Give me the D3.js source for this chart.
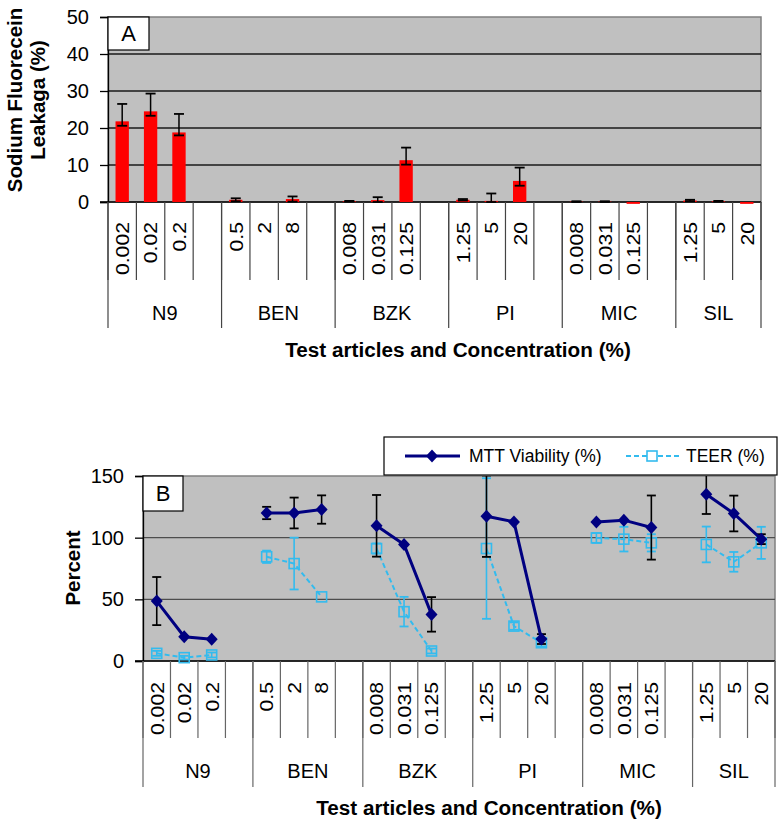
<!DOCTYPE html>
<html>
<head>
<meta charset="utf-8">
<script src="https://cdn.jsdelivr.net/npm/d3@7"></script>
<style>
  html, body { margin: 0; padding: 0; background: #fff; }
  svg { display: block; font-family: "Liberation Sans", Arial, sans-serif; }
</style>
</head>
<body>
<svg id="chart" width="784" height="826"></svg>
<script>
// ---------------- DATA ----------------
const groups = ["N9", "BEN", "BZK", "PI", "MIC", "SIL"];
const concentrations = [
  ["0.002", "0.02", "0.2"],
  ["0.5", "2", "8"],
  ["0.008", "0.031", "0.125"],
  ["1.25", "5", "20"],
  ["0.008", "0.031", "0.125"],
  ["1.25", "5", "20"]
];
// Panel A: sodium fluorescein leakage (%)
const leakage     = [21.8, 24.5, 18.8,  0.6, 0.0, 0.8,  0.2, 0.5, 11.3,  0.6, 0.3, 5.7,  0.1, 0.1, -0.5,  0.4, 0.2, -0.5];
const leakErrUp   = [4.7, 4.8, 5.0,     0.4, 0.0, 0.7,  0.1, 0.8, 3.4,   0.2, 2.0, 3.6,  0.1, 0.1, 0.0,   0.2, 0.1, 0.0];
const leakErrDown = [1.2, 1.2, 0.8,     0.4, 0.0, 0.7,  0.1, 0.5, 1.2,   0.2, 0.3, 1.3,  0.1, 0.1, 0.0,   0.2, 0.1, 0.0];
// Panel B: MTT viability (%) and TEER (%)
const mtt     = [48.6, 19.7, 17.6,  120.0, 120.0, 122.8,  109.6, 94.5, 37.8,  117.4, 112.8, 17.8,  112.8, 114.2, 108.2,  135.2, 119.6, 98.8];
const mttErr  = [19.5, 0, 0,        5, 12.5, 11.5,        25, 0, 14,          33, 0, 4,              0, 0, 26,               16, 14.5, 4];
const teer    = [6.2, 2.7, 4.9,     84.5, 79.0, 52.0,     91.2, 40.0, 8.1,    91.2, 28.3, 14.8,     99.8, 98.8, 95.8,       94.5, 80.4, 95.8];
const teerErr = [2, 1.5, 2,         5, 21, 0,             4, 12, 2,           57, 3, 3,             4, 10, 7,               14.5, 8, 13];
const ticksA = [0, 10, 20, 30, 40, 50];
const ticksB = [0, 50, 100, 150];
const seriesNames = ["MTT Viability (%)", "TEER (%)"];

// ---------------- SLOTS ----------------
const slots = [];
const points = [];
groups.forEach((g, gi) => {
  concentrations[gi].forEach((c, ci) => {
    const key = g + "|" + ci;
    slots.push(key);
    points.push({ key, group: g, gi, conc: c, idx: points.length });
  });
  if (gi < groups.length - 1) slots.push("gap" + gi);
});

const svg = d3.select("#chart");
const FONT = "'Liberation Sans', Arial, sans-serif";
const PLOT_BG = "#C0C0C0";

function drawCategoryAxis(g, x, yAxis, opts) {
  const bw = x.bandwidth();
  const [r0, r1] = x.range();
  const bounds = d3.range(slots.length + 1).map(i => r0 + i * bw);
  g.selectAll(".sep").data(bounds).join("line")
    .attr("x1", d => d).attr("x2", d => d)
    .attr("y1", yAxis).attr("y2", yAxis + opts.shortLen)
    .attr("stroke", opts.sepColor).attr("stroke-width", 1.2);
  const gb = [];
  let acc = 0;
  groups.forEach((gname, gi) => {
    gb.push(r0 + acc * bw);
    acc += concentrations[gi].length + (gi < groups.length - 1 ? 1 : 0);
  });
  gb.push(r1);
  g.selectAll(".gsep").data(gb).join("line")
    .attr("x1", d => d).attr("x2", d => d)
    .attr("y1", yAxis).attr("y2", yAxis + opts.longLen)
    .attr("stroke", opts.sepColor).attr("stroke-width", 1.2);
  g.selectAll(".clab").data(points).join("text")
    .attr("transform", d => `translate(${x(d.key) + bw / 2},${yAxis + opts.labelGap}) rotate(-90) scale(1.06,0.95)`)
    .attr("text-anchor", "end").attr("dy", "0.36em")
    .attr("font-size", 20).attr("font-family", FONT).attr("fill", "#000")
    .text(d => d.conc);
  g.selectAll(".glab").data(groups).join("text")
    .attr("x", (d, i) => (gb[i] + gb[i + 1]) / 2)
    .attr("y", yAxis + opts.groupY)
    .attr("text-anchor", "middle")
    .attr("font-size", 20).attr("font-family", FONT)
    .text(d => d);
}

function drawPlotFrame(g, x, y, left, right, top, bottom, ticks, gridColor) {
  g.append("rect").attr("x", left).attr("y", top)
    .attr("width", right - left).attr("height", bottom - top)
    .attr("fill", PLOT_BG).attr("stroke", "#808080").attr("stroke-width", 1.5);
  g.selectAll(".grid").data(ticks.filter(t => t !== 0 && y(t) > top + 1)).join("line")
    .attr("x1", left).attr("x2", right)
    .attr("y1", d => y(d)).attr("y2", d => y(d))
    .attr("stroke", gridColor).attr("stroke-width", 1.3);
  const ya = g.append("g").attr("transform", `translate(${left},0)`)
    .call(d3.axisLeft(y).tickValues(ticks).tickSize(8).tickPadding(11).tickFormat(d3.format("d")));
  ya.select(".domain").attr("stroke", "#000").attr("stroke-width", 1.3);
  ya.selectAll(".tick line").attr("stroke", "#000").attr("stroke-width", 1.3);
  ya.selectAll("text").attr("font-size", 20).attr("font-family", FONT).attr("fill", "#000");
  g.append("line").attr("x1", left - 8).attr("x2", right)
    .attr("y1", y(0)).attr("y2", y(0))
    .attr("stroke", "#000").attr("stroke-width", 1.5);
}

function letterBox(g, x0, y0, w, h, letter) {
  g.append("rect").attr("x", x0).attr("y", y0).attr("width", w).attr("height", h)
    .attr("fill", "#fff").attr("stroke", "#000").attr("stroke-width", 1.2);
  g.append("text").attr("x", x0 + w / 2).attr("y", y0 + h / 2).attr("dy", "0.36em")
    .attr("text-anchor", "middle").attr("font-size", 22).attr("font-family", FONT)
    .text(letter);
}

// ---------------- PANEL A ----------------
{
  const L = 108, R = 761, T = 17, B = 202;
  const x = d3.scaleBand().domain(slots).range([L, R]).padding(0);
  const y = d3.scaleLinear().domain([0, 50]).range([B, T]);
  const g = svg.append("g");
  drawPlotFrame(g, x, y, L, R, T, B, ticksA, "#1a1a1a");
  const bw = x.bandwidth();
  const barW = bw * 0.47;
  g.selectAll(".bar").data(points).join("rect")
    .attr("x", d => x(d.key) + (bw - barW) / 2)
    .attr("width", barW)
    .attr("y", d => y(Math.max(0, leakage[d.idx])))
    .attr("height", d => Math.abs(y(leakage[d.idx]) - y(0)))
    .attr("fill", "#FF0000");
  const eb = points.filter(d => leakErrUp[d.idx] + leakErrDown[d.idx] > 0);
  const cx = d => x(d.key) + bw / 2;
  g.selectAll(".ev").data(eb).join("line")
    .attr("x1", cx).attr("x2", cx)
    .attr("y1", d => y(leakage[d.idx] + leakErrUp[d.idx]))
    .attr("y2", d => y(leakage[d.idx] - leakErrDown[d.idx]))
    .attr("stroke", "#000").attr("stroke-width", 1.5);
  ["up", "down"].forEach(k => {
    g.selectAll(".ec" + k).data(eb).join("line")
      .attr("x1", d => cx(d) - 5).attr("x2", d => cx(d) + 5)
      .attr("y1", d => y(leakage[d.idx] + (k === "up" ? leakErrUp[d.idx] : -leakErrDown[d.idx])))
      .attr("y2", d => y(leakage[d.idx] + (k === "up" ? leakErrUp[d.idx] : -leakErrDown[d.idx])))
      .attr("stroke", "#000").attr("stroke-width", 1.8);
  });
  drawCategoryAxis(g, x, B, { shortLen: 78, longLen: 126, labelGap: 20, groupY: 118, sepColor: "#444" });
  letterBox(g, L, T, 41, 33, "A");
  const yt = g.append("text").attr("transform", "translate(15,100) rotate(-90)")
    .attr("text-anchor", "middle").attr("font-size", 20.5).attr("font-weight", "bold")
    .attr("font-family", FONT);
  yt.append("tspan").attr("x", 0).attr("dy", "0.35em").text("Sodium Fluorecein");
  yt.append("tspan").attr("x", 0).attr("dy", "1.12em").text("Leakaga (%)");
  g.append("text").attr("x", 458).attr("y", 357).attr("text-anchor", "middle")
    .attr("font-size", 20.7).attr("font-weight", "bold").attr("font-family", FONT)
    .text("Test articles and Concentration (%)");
}

// ---------------- PANEL B ----------------
{
  const L = 143, R = 775, T = 476, B = 661;
  const x = d3.scaleBand().domain(slots).range([L, R]).padding(0);
  const y = d3.scaleLinear().domain([0, 150]).range([B, T]);
  const g = svg.append("g");
  drawPlotFrame(g, x, y, L, R, T, B, ticksB, "#4d4d4d");
  const bw = x.bandwidth();
  const cx = d => x(d.key) + bw / 2;

  svg.append("clipPath").attr("id", "clipB").append("rect")
    .attr("x", L).attr("y", T).attr("width", R - L).attr("height", B - T + 20);
  const pg = g.append("g").attr("clip-path", "url(#clipB)");

  function errorBars(vals, errs, color, cls) {
    const eb = points.filter(d => errs[d.idx] > 0);
    pg.selectAll(".v" + cls).data(eb).join("line")
      .attr("x1", cx).attr("x2", cx)
      .attr("y1", d => y(vals[d.idx] + errs[d.idx]))
      .attr("y2", d => y(vals[d.idx] - errs[d.idx]))
      .attr("stroke", color).attr("stroke-width", 1.6);
    [1, -1].forEach(s => {
      pg.selectAll(".c" + cls + s).data(eb).join("line")
        .attr("x1", d => cx(d) - 4.5).attr("x2", d => cx(d) + 4.5)
        .attr("y1", d => y(vals[d.idx] + s * errs[d.idx]))
        .attr("y2", d => y(vals[d.idx] + s * errs[d.idx]))
        .attr("stroke", color).attr("stroke-width", 1.8);
    });
  }
  const line = vals => d3.line().x(cx).y(d => y(vals[d.idx]));
  const byGroup = groups.map(gn => points.filter(p => p.group === gn));

  const teerColor = "#33BBEE";
  errorBars(teer, teerErr, teerColor, "t");
  pg.selectAll(".tline").data(byGroup).join("path")
    .attr("d", line(teer)).attr("fill", "none")
    .attr("stroke", teerColor).attr("stroke-width", 2).attr("stroke-dasharray", "5,3");
  pg.selectAll(".tsq").data(points).join("rect")
    .attr("x", d => cx(d) - 5).attr("y", d => y(teer[d.idx]) - 5)
    .attr("width", 10).attr("height", 10)
    .attr("fill", "none").attr("stroke", teerColor).attr("stroke-width", 1.6);

  const mttColor = "#000080";
  errorBars(mtt, mttErr, "#000", "m");
  pg.selectAll(".mline").data(byGroup).join("path")
    .attr("d", line(mtt)).attr("fill", "none")
    .attr("stroke", mttColor).attr("stroke-width", 3);
  const diamond = "M0,-6.5L6,0L0,6.5L-6,0Z";
  pg.selectAll(".md").data(points).join("path")
    .attr("transform", d => `translate(${cx(d)},${y(mtt[d.idx])})`)
    .attr("d", diamond).attr("fill", mttColor);

  drawCategoryAxis(g, x, B, { shortLen: 77, longLen: 126, labelGap: 21, groupY: 117, sepColor: "#666" });
  letterBox(g, L, T, 40, 35, "B");

  const lg = svg.append("g");
  lg.append("rect").attr("x", 384).attr("y", 437).attr("width", 393).attr("height", 38)
    .attr("fill", "#fff").attr("stroke", "#000").attr("stroke-width", 1.2);
  const ly = 456;
  lg.append("line").attr("x1", 405).attr("x2", 460).attr("y1", ly).attr("y2", ly)
    .attr("stroke", mttColor).attr("stroke-width", 3);
  lg.append("path").attr("transform", `translate(432,${ly})`).attr("d", diamond).attr("fill", mttColor);
  lg.append("text").attr("x", 469).attr("y", ly).attr("dy", "0.35em")
    .attr("font-size", 17.5).attr("font-family", FONT).text(seriesNames[0]);
  lg.append("line").attr("x1", 626).attr("x2", 680).attr("y1", ly).attr("y2", ly)
    .attr("stroke", teerColor).attr("stroke-width", 2).attr("stroke-dasharray", "5,3");
  lg.append("rect").attr("x", 647).attr("y", ly - 5).attr("width", 10).attr("height", 10)
    .attr("fill", "#fff").attr("stroke", teerColor).attr("stroke-width", 1.6);
  lg.append("text").attr("x", 686).attr("y", ly).attr("dy", "0.35em")
    .attr("font-size", 17.5).attr("font-family", FONT).text(seriesNames[1]);

  g.append("text").attr("transform", "translate(73,568) rotate(-90)").attr("dy", "0.35em")
    .attr("text-anchor", "middle").attr("font-size", 20.5).attr("font-weight", "bold")
    .attr("font-family", FONT).text("Percent");
  g.append("text").attr("x", 489).attr("y", 815).attr("text-anchor", "middle")
    .attr("font-size", 20.7).attr("font-weight", "bold").attr("font-family", FONT)
    .text("Test articles and Concentration (%)");
}
</script>
</body>
</html>
